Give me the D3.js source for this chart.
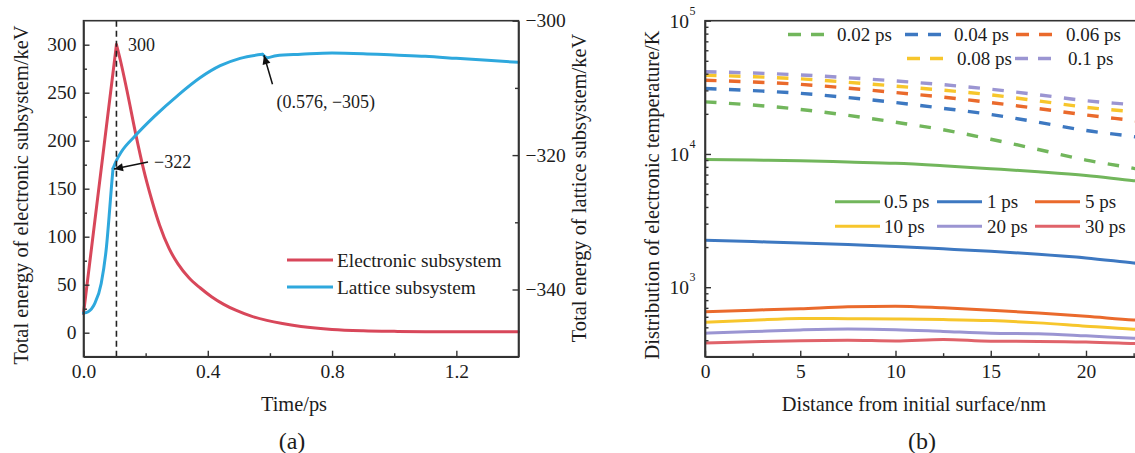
<!DOCTYPE html>
<html>
<head>
<meta charset="utf-8">
<script src="https://cdn.jsdelivr.net/npm/d3@7"></script>
<style>
  body { margin: 0; background: #fff; }
  svg { display: block; font-family: "Liberation Serif", "Times New Roman", serif; }
</style>
</head>
<body>
<svg id="fig" width="1135" height="453"></svg>
<script>
// ---------------- Panel (a): total energy vs time ----------------
const elecTime   = [0, 0.106, 0.12, 0.14, 0.17, 0.192, 0.22, 0.245, 0.275, 0.304, 0.34, 0.375, 0.412, 0.45, 0.49, 0.54, 0.59, 0.64, 0.7, 0.8, 0.9, 1.0, 1.1, 1.2, 1.3, 1.4];
const elecEnergy = [20, 300, 282, 252, 204, 172, 138, 112, 88, 71.7, 57, 46.8, 37.5, 29.8, 23.4, 17.2, 12.8, 9.5, 6.5, 3.4, 2.0, 1.4, 1.1, 1.0, 0.9, 0.9];
const elecKinks  = [1];

const latTime   = [0, 0.015, 0.036, 0.057, 0.074, 0.084, 0.09, 0.095, 0.105, 0.122, 0.165, 0.229, 0.304, 0.375, 0.44, 0.504, 0.576, 0.592, 0.62, 0.7, 0.8, 0.9, 1.0, 1.1, 1.2, 1.3, 1.4];
const latEnergy = [-343.5, -343.3, -342.1, -339.1, -333.6, -328.2, -324.7, -322, -320.9, -319.5, -317.2, -314.2, -311.1, -308.5, -306.7, -305.6, -305, -305.5, -305.2, -305.0, -304.8, -304.9, -305.1, -305.3, -305.6, -305.9, -306.2];
const latKinks  = [7, 16];

const peakPoint    = { t: 0.106, v: 300 };
const kinkPoint    = { t: 0.095, v: -322 };
const plateauPoint = { t: 0.576, v: -305 };

const timeTicks      = [0, 0.4, 0.8, 1.2];
const timeMinor      = [0.2, 0.6, 1.0];
const elecTicks      = [0, 50, 100, 150, 200, 250, 300];
const elecMinor      = [25, 75, 125, 175, 225, 275];
const latTicks       = [-340, -320, -300];
const latMinor       = [-330, -310];
const seriesNamesA   = ["Electronic subsystem", "Lattice subsystem"];
const seriesColorsA  = ["#d8475a", "#2ea8dd"];

// ---------------- Panel (b): electronic temperature vs depth ----------------
const distance = [0, 2.5, 5, 7.5, 10, 12.5, 15, 17.5, 20, 22.5, 23];
const earlyLabels = ["0.02 ps", "0.04 ps", "0.06 ps", "0.08 ps", "0.1 ps"];
const early002 = [24600, 23300, 21600, 19500, 17300, 15200, 12900, 10800, 9000, 7800, 7550];
const early004 = [31000, 29900, 28500, 26500, 24300, 22000, 19800, 17300, 15000, 13500, 13200];
const early006 = [35700, 34700, 33300, 31200, 28900, 26700, 24300, 21900, 19600, 17800, 17450];
const early008 = [39000, 38000, 36600, 34500, 32300, 30100, 27800, 25000, 22400, 20700, 20350];
const early010 = [41400, 40500, 39200, 37300, 35300, 33100, 30600, 27800, 25100, 23400, 23050];

const lateLabels = ["0.5 ps", "1 ps", "5 ps", "10 ps", "20 ps", "30 ps"];
const late05 = [9100, 9000, 8900, 8700, 8500, 8150, 7750, 7350, 6900, 6300, 6200];
const late1  = [2250, 2200, 2150, 2090, 2020, 1940, 1860, 1770, 1660, 1520, 1495];
const late5  = [655, 672, 690, 712, 720, 700, 672, 640, 605, 568, 562];
const late10 = [545, 565, 583, 580, 577, 572, 562, 540, 510, 484, 480];
const late20 = [452, 465, 478, 485, 480, 466, 452, 448, 432, 414, 411];
const late30 = [382, 390, 397, 400, 395, 406, 393, 392, 388, 378, 376];

const palette = ["#72b65c", "#3d78c1", "#ea6a2c", "#f7c62c", "#9b95d2", "#e0636a"];

const distTicks  = [0, 5, 10, 15, 20];
const distMinor  = [2.5, 7.5, 12.5, 17.5, 22.5];
const tempMajor  = [1e3, 1e4, 1e5];
const tempExps   = ["3", "4", "5"];

// ---------------- layout ----------------
const svg = d3.select("#fig");
const ink = "#333";
const txt = "#1c1c1c";
const fsTick = 19.5, fsTitle = 20.4, fsLegA = 19.3, fsLegB = 19, fsNote = 18;

const A = { left: 83.5, right: 518.5, top: 20.7, bottom: 356.7 };
const B = { left: 705, right: 705 + 25 * 19.05, top: 20.7, bottom: 356.7 };

const xA  = d3.scaleLinear().domain([0, 1.4]).range([A.left, A.right]);
const yAL = d3.scaleLinear().domain([-25, 325]).range([A.bottom, A.top]);
const yAR = d3.scaleLinear().domain([-350, -300]).range([A.bottom, A.top]);

const xB = d3.scaleLinear().domain([0, 25]).range([B.left, B.right]);
const yB = d3.scaleLog().domain([301, 1e5]).range([B.bottom, B.top]);

// arrowhead
svg.append("defs").append("marker")
  .attr("id", "head").attr("markerUnits", "userSpaceOnUse")
  .attr("viewBox", "0 -5 10 10").attr("refX", 10).attr("refY", 0)
  .attr("markerWidth", 11).attr("markerHeight", 9).attr("orient", "auto")
  .append("path").attr("d", "M0,-4.5L10,0L0,4.5Z").attr("fill", "#111");

function styleAxis(g) {
  g.selectAll(".domain").attr("stroke", ink).attr("stroke-width", 1.6);
  g.selectAll(".tick line").attr("stroke", ink).attr("stroke-width", 1.4);
  g.selectAll("text").attr("font-family", "Liberation Serif, serif").attr("font-size", fsTick).attr("fill", txt);
}

// monotone pieces joined at points where the slope changes abruptly
function drawPieces(g, xs, ys, kinks, sx, sy, color, width) {
  const cuts = [0, ...kinks, xs.length - 1];
  const line = d3.line().x(d => sx(d[0])).y(d => sy(d[1])).curve(d3.curveMonotoneX);
  for (let i = 0; i < cuts.length - 1; i++) {
    const pts = [];
    for (let k = cuts[i]; k <= cuts[i + 1]; k++) pts.push([xs[k], ys[k]]);
    g.append("path").datum(pts).attr("d", line)
      .attr("fill", "none").attr("stroke", color).attr("stroke-width", width)
      .attr("stroke-linejoin", "round").attr("stroke-linecap", "round");
  }
}

const fmtMinus = v => String(v).replace("-", "\u2212");

// ================= Panel (a) =================
const gA = svg.append("g");

drawPieces(gA, elecTime, elecEnergy, elecKinks, xA, yAL, seriesColorsA[0], 3);
drawPieces(gA, latTime, latEnergy, latKinks, xA, yAR, seriesColorsA[1], 3);

// dashed marker at the electronic peak
gA.append("line")
  .attr("x1", xA(peakPoint.t)).attr("x2", xA(peakPoint.t))
  .attr("y1", A.top).attr("y2", A.bottom)
  .attr("stroke", "#222").attr("stroke-width", 1.6).attr("stroke-dasharray", "6,4");

// axes
gA.append("g").attr("transform", `translate(0,${A.bottom})`)
  .call(d3.axisBottom(xA).tickValues(timeTicks).tickFormat(d3.format(".1f")).tickSizeInner(-6).tickSizeOuter(0).tickPadding(7))
  .call(styleAxis);
gA.append("g").attr("transform", `translate(0,${A.bottom})`)
  .call(d3.axisBottom(xA).tickValues(timeMinor).tickFormat("").tickSizeInner(-3.5).tickSizeOuter(0))
  .call(styleAxis).select(".domain").remove();

gA.append("g").attr("transform", `translate(${A.left},0)`)
  .call(d3.axisLeft(yAL).tickValues(elecTicks).tickSizeInner(-6).tickSizeOuter(0).tickPadding(7))
  .call(styleAxis);
gA.append("g").attr("transform", `translate(${A.left},0)`)
  .call(d3.axisLeft(yAL).tickValues(elecMinor).tickFormat("").tickSizeInner(-3.5).tickSizeOuter(0))
  .call(styleAxis).select(".domain").remove();

gA.append("g").attr("transform", `translate(${A.right},0)`)
  .call(d3.axisRight(yAR).tickValues(latTicks).tickFormat(fmtMinus).tickSizeInner(-6).tickSizeOuter(0).tickPadding(7))
  .call(styleAxis);
gA.append("g").attr("transform", `translate(${A.right},0)`)
  .call(d3.axisRight(yAR).tickValues(latMinor).tickFormat("").tickSizeInner(-3.5).tickSizeOuter(0))
  .call(styleAxis).select(".domain").remove();

// frame
gA.append("rect").attr("x", A.left).attr("y", A.top)
  .attr("width", A.right - A.left).attr("height", A.bottom - A.top)
  .attr("fill", "none").attr("stroke", ink).attr("stroke-width", 1.6);

// annotations
gA.append("text").attr("x", xA(peakPoint.t) + 11.5).attr("y", yAL(peakPoint.v)).attr("dy", "0.35em")
  .attr("font-size", fsNote).attr("fill", txt).text(fmtMinus(peakPoint.v));

const kx = xA(kinkPoint.t), ky = yAR(kinkPoint.v);
gA.append("line").attr("x1", kx + 35).attr("y1", ky - 6.5).attr("x2", kx + 1).attr("y2", ky + 0.5)
  .attr("stroke", "#111").attr("stroke-width", 1.5).attr("marker-end", "url(#head)");
gA.append("text").attr("x", kx + 41).attr("y", ky - 7).attr("dy", "0.35em")
  .attr("font-size", fsNote).attr("fill", txt).text(fmtMinus(kinkPoint.v));

const px = xA(plateauPoint.t), py = yAR(plateauPoint.v);
gA.append("line").attr("x1", px + 10).attr("y1", py + 30).attr("x2", px + 1.5).attr("y2", py + 1)
  .attr("stroke", "#111").attr("stroke-width", 1.5).attr("marker-end", "url(#head)");
gA.append("text").attr("x", px + 14).attr("y", py + 47.5).attr("dy", "0.35em")
  .attr("font-size", fsNote).attr("fill", txt)
  .text(`(${plateauPoint.t}, ${fmtMinus(plateauPoint.v)})`);

// legend
seriesNamesA.forEach((name, i) => {
  const y = 260 + i * 27;
  gA.append("line").attr("x1", 287).attr("x2", 333).attr("y1", y).attr("y2", y)
    .attr("stroke", seriesColorsA[i]).attr("stroke-width", 3);
  gA.append("text").attr("x", 337).attr("y", y).attr("dy", "0.35em")
    .attr("font-size", fsLegA).attr("fill", txt).text(name);
});

// titles
gA.append("text").attr("transform", "translate(27.5,195) rotate(-90)").attr("text-anchor", "middle")
  .attr("font-size", fsTitle).attr("fill", txt).text("Total energy of electronic subsystem/keV");
gA.append("text").attr("transform", "translate(585.5,188) rotate(-90)").attr("text-anchor", "middle")
  .attr("font-size", fsTitle).attr("fill", txt).text("Total energy of lattice subsystem/keV");
gA.append("text").attr("x", 294).attr("y", 411).attr("text-anchor", "middle")
  .attr("font-size", fsTitle).attr("fill", txt).text("Time/ps");
gA.append("text").attr("x", 292).attr("y", 449).attr("text-anchor", "middle")
  .attr("font-size", 24).attr("fill", txt).text("(a)");

// ================= Panel (b) =================
const gB = svg.append("g");
gB.append("clipPath").attr("id", "clipB").append("rect")
  .attr("x", B.left).attr("y", B.top).attr("width", B.right - B.left).attr("height", B.bottom - B.top);

const lineB = d3.line().x((d, i) => xB(distance[i])).y(d => yB(d)).curve(d3.curveMonotoneX);
const plotB = gB.append("g").attr("clip-path", "url(#clipB)");

const earlySeries = [early002, early004, early006, early008, early010];
const lateSeries  = [late05, late1, late5, late10, late20, late30];
const earlyColors = [palette[0], palette[1], palette[2], palette[3], palette[4]];

lateSeries.forEach((s, i) => {
  plotB.append("path").datum(s).attr("d", lineB)
    .attr("fill", "none").attr("stroke", palette[i]).attr("stroke-width", 3);
});
earlySeries.forEach((s, i) => {
  plotB.append("path").datum(s).attr("d", lineB)
    .attr("fill", "none").attr("stroke", earlyColors[i]).attr("stroke-width", 3.4)
    .attr("stroke-dasharray", "11.5,12.5");
});

// axes
gB.append("g").attr("transform", `translate(0,${B.bottom})`)
  .call(d3.axisBottom(xB).tickValues(distTicks).tickFormat(d3.format("d")).tickSizeInner(-6).tickSizeOuter(0).tickPadding(7))
  .call(styleAxis);
gB.append("g").attr("transform", `translate(0,${B.bottom})`)
  .call(d3.axisBottom(xB).tickValues(distMinor).tickFormat("").tickSizeInner(-3.5).tickSizeOuter(0))
  .call(styleAxis).select(".domain").remove();

const tempMinor = [];
[100, 1000, 10000].forEach(base => {
  for (let m = 2; m <= 9; m++) {
    const v = base * m;
    if (v >= yB.domain()[0] && v <= yB.domain()[1]) tempMinor.push(v);
  }
});
gB.append("g").attr("transform", `translate(${B.left},0)`)
  .call(d3.axisLeft(yB).tickValues(tempMajor).tickFormat("").tickSizeInner(-6).tickSizeOuter(0))
  .call(styleAxis);
gB.append("g").attr("transform", `translate(${B.left},0)`)
  .call(d3.axisLeft(yB).tickValues(tempMinor).tickFormat("").tickSizeInner(-3.5).tickSizeOuter(0))
  .call(styleAxis).select(".domain").remove();

tempMajor.forEach((v, i) => {
  gB.append("text").attr("x", B.left - 16).attr("y", yB(v)).attr("dy", "0.35em")
    .attr("text-anchor", "end").attr("font-size", fsTick).attr("fill", txt).text("10");
  gB.append("text").attr("x", B.left - 15.5).attr("y", yB(v) - 6)
    .attr("font-size", 12).attr("fill", txt).text(tempExps[i]);
});

// frame (its right side runs past the page edge)
gB.append("rect").attr("x", B.left).attr("y", B.top)
  .attr("width", B.right - B.left).attr("height", B.bottom - B.top)
  .attr("fill", "none").attr("stroke", ink).attr("stroke-width", 1.6);

// legends
const dashLegend = [
  { x: 788, y: 34.5, tx: 837 }, { x: 905, y: 34.5, tx: 954 }, { x: 1016, y: 34.5, tx: 1066 },
  { x: 907, y: 58.5, tx: 957 }, { x: 1015, y: 58.5, tx: 1068 }
];
earlyLabels.forEach((lab, i) => {
  const p = dashLegend[i];
  gB.append("line").attr("x1", p.x).attr("x2", p.x + 36).attr("y1", p.y).attr("y2", p.y)
    .attr("stroke", earlyColors[i]).attr("stroke-width", 3.4).attr("stroke-dasharray", "13,10");
  gB.append("text").attr("x", p.tx).attr("y", p.y).attr("dy", "0.35em")
    .attr("font-size", fsLegB).attr("fill", txt).text(lab);
});

const solidCols = [835, 937, 1035];
const solidTextX = [884, 987, 1085];
lateLabels.forEach((lab, i) => {
  const col = i % 3, row = Math.floor(i / 3);
  const y = 201.7 + row * 24.5;
  gB.append("line").attr("x1", solidCols[col]).attr("x2", solidCols[col] + 45).attr("y1", y).attr("y2", y)
    .attr("stroke", palette[i]).attr("stroke-width", 3);
  gB.append("text").attr("x", solidTextX[col]).attr("y", y).attr("dy", "0.35em")
    .attr("font-size", fsLegB).attr("fill", txt).text(lab);
});

// titles
gB.append("text").attr("transform", "translate(659,195) rotate(-90)").attr("text-anchor", "middle")
  .attr("font-size", fsTitle).attr("fill", txt).text("Distribution of electronic temperature/K");
gB.append("text").attr("x", 914).attr("y", 411).attr("text-anchor", "middle")
  .attr("font-size", fsTitle).attr("fill", txt).text("Distance from initial surface/nm");
gB.append("text").attr("x", 922).attr("y", 449).attr("text-anchor", "middle")
  .attr("font-size", 24).attr("fill", txt).text("(b)");
</script>
</body>
</html>
